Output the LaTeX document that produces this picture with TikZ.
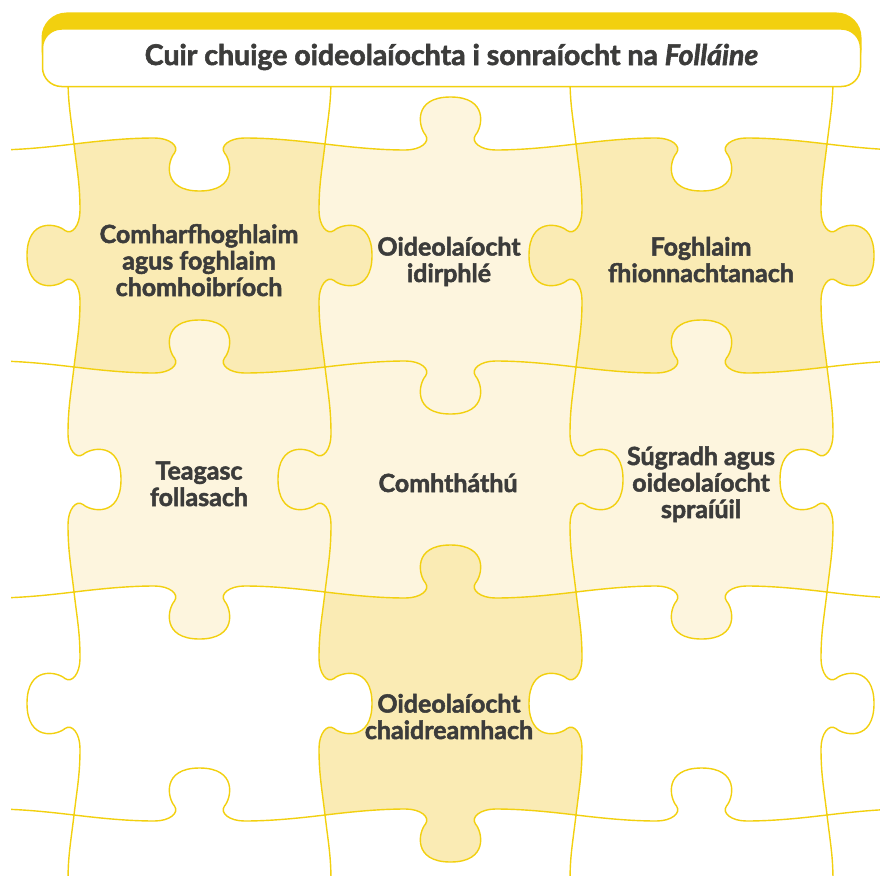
\documentclass[tikz,border=0pt]{standalone}
\usepackage{fontspec}
\setmainfont{Lato}[BoldFeatures={FakeBold=2},BoldItalicFeatures={FakeBold=2}]
\definecolor{jy}{HTML}{F2D00F}
\definecolor{pdark}{HTML}{FAEBB4}
\definecolor{plight}{HTML}{FDF5DE}
\definecolor{txt}{HTML}{3C3C3B}
% horizontal jigsaw edge from (#1,#3) to (#2,#3), knob towards y+#4
\def\HE#1#2#3#4{%
 .. controls ({hn(#1,#2,30)},{#3-(#4)*3.6}) and ({hm(#1,#2,-70)},{#3-(#4)*6}) .. ({hm(#1,#2,-45)},{#3-(#4)*6})
 .. controls ({hm(#1,#2,-30)},{#3-(#4)*6}) and ({hm(#1,#2,-20)},{#3+(#4)*2}) .. ({hm(#1,#2,-25)},{#3+(#4)*9})
 .. controls ({hm(#1,#2,-32)},{#3+(#4)*17}) and ({hm(#1,#2,-38)},{#3+(#4)*47}) .. ({hm(#1,#2,0)},{#3+(#4)*47})
 .. controls ({hm(#1,#2,38)},{#3+(#4)*47}) and ({hm(#1,#2,32)},{#3+(#4)*17}) .. ({hm(#1,#2,25)},{#3+(#4)*9})
 .. controls ({hm(#1,#2,20)},{#3+(#4)*2}) and ({hm(#1,#2,30)},{#3-(#4)*6}) .. ({hm(#1,#2,45)},{#3-(#4)*6})
 .. controls ({hm(#1,#2,70)},{#3-(#4)*6}) and ({hn(#2,#1,30)},{#3-(#4)*3.6}) .. (#2,#3)}
% vertical jigsaw edge from (#3,#1) to (#3,#2), knob towards x+#4
\def\VE#1#2#3#4{%
 .. controls ({#3-(#4)*3.6},{hn(#1,#2,30)}) and ({#3-(#4)*6},{hm(#1,#2,-70)}) .. ({#3-(#4)*6},{hm(#1,#2,-45)})
 .. controls ({#3-(#4)*6},{hm(#1,#2,-30)}) and ({#3+(#4)*2},{hm(#1,#2,-20)}) .. ({#3+(#4)*9},{hm(#1,#2,-25)})
 .. controls ({#3+(#4)*17},{hm(#1,#2,-32)}) and ({#3+(#4)*47},{hm(#1,#2,-38)}) .. ({#3+(#4)*47},{hm(#1,#2,0)})
 .. controls ({#3+(#4)*47},{hm(#1,#2,38)}) and ({#3+(#4)*17},{hm(#1,#2,32)}) .. ({#3+(#4)*9},{hm(#1,#2,25)})
 .. controls ({#3+(#4)*2},{hm(#1,#2,20)}) and ({#3-(#4)*6},{hm(#1,#2,30)}) .. ({#3-(#4)*6},{hm(#1,#2,45)})
 .. controls ({#3-(#4)*6},{hm(#1,#2,70)}) and ({#3-(#4)*3.6},{hn(#2,#1,30)}) .. (#3,#2)}
\begin{document}
\begin{tikzpicture}[x=1pt,y=-1pt,
  declare function={
    hm(\a,\b,\w)=((\a)+(\b))/2+((\b)-(\a))/abs((\b)-(\a))*(\w);
    hn(\a,\b,\w)=(\a)+((\b)-(\a))/abs((\b)-(\a))*(\w);
  },
  seam/.style={draw=jy,line width=1.4pt},
  darkpiece/.style={fill=pdark},
  lightpiece/.style={fill=plight},
  lbl/.style={font=\bfseries\fontsize{25}{26.5}\selectfont,text=txt,align=center,anchor=base,inner sep=0pt},
  titlelbl/.style={font=\bfseries\fontsize{28.5}{30}\selectfont,text=txt,anchor=base,inner sep=0pt}]
\useasboundingbox (0,0) rectangle (880,875);
% piece fills
\path[darkpiece] (74,144) \HE{74}{325}{144}{1} \VE{144}{367}{325}{1} \HE{325}{74}{367}{-1} \VE{367}{144}{74}{-1} -- cycle;
\path[lightpiece] (325,144) \HE{325}{576}{144}{-1} \VE{144}{367}{576}{-1} \HE{576}{325}{367}{1} \VE{367}{144}{325}{1} -- cycle;
\path[darkpiece] (576,144) \HE{576}{827}{144}{1} \VE{144}{367}{827}{1} \HE{827}{576}{367}{-1} \VE{367}{144}{576}{-1} -- cycle;
\path[lightpiece] (74,367) \HE{74}{325}{367}{-1} \VE{367}{592}{325}{-1} \HE{325}{74}{592}{1} \VE{592}{367}{74}{1} -- cycle;
\path[lightpiece] (325,367) \HE{325}{576}{367}{1} \VE{367}{592}{576}{1} \HE{576}{325}{592}{-1} \VE{592}{367}{325}{-1} -- cycle;
\path[lightpiece] (576,367) \HE{576}{827}{367}{-1} \VE{367}{592}{827}{-1} \HE{827}{576}{592}{1} \VE{592}{367}{576}{1} -- cycle;
\path[darkpiece] (325,592) \HE{325}{576}{592}{-1} \VE{592}{815}{576}{-1} \HE{576}{325}{815}{1} \VE{815}{592}{325}{1} -- cycle;
% seams
\begin{scope}
\clip (11,87) rectangle (880,875);
\path[seam] (-177,144) \HE{-177}{74}{144}{-1} \HE{74}{325}{144}{1} \HE{325}{576}{144}{-1} \HE{576}{827}{144}{1} \HE{827}{1078}{144}{-1};
\path[seam] (-177,367) \HE{-177}{74}{367}{1} \HE{74}{325}{367}{-1} \HE{325}{576}{367}{1} \HE{576}{827}{367}{-1} \HE{827}{1078}{367}{1};
\path[seam] (-177,592) \HE{-177}{74}{592}{-1} \HE{74}{325}{592}{1} \HE{325}{576}{592}{-1} \HE{576}{827}{592}{1} \HE{827}{1078}{592}{-1};
\path[seam] (-177,815) \HE{-177}{74}{815}{1} \HE{74}{325}{815}{-1} \HE{325}{576}{815}{1} \HE{576}{827}{815}{-1} \HE{827}{1078}{815}{1};
\path[seam] (74,-79) \VE{-79}{144}{74}{1} \VE{144}{367}{74}{-1} \VE{367}{592}{74}{1} \VE{592}{815}{74}{-1} \VE{815}{1038}{74}{1};
\path[seam] (325,-79) \VE{-79}{144}{325}{-1} \VE{144}{367}{325}{1} \VE{367}{592}{325}{-1} \VE{592}{815}{325}{1} \VE{815}{1038}{325}{-1};
\path[seam] (576,-79) \VE{-79}{144}{576}{1} \VE{144}{367}{576}{-1} \VE{367}{592}{576}{1} \VE{592}{815}{576}{-1} \VE{815}{1038}{576}{1};
\path[seam] (827,-79) \VE{-79}{144}{827}{-1} \VE{144}{367}{827}{1} \VE{367}{592}{827}{-1} \VE{592}{815}{827}{1} \VE{815}{1038}{827}{-1};
\end{scope}
% title box
\fill[jy,rounded corners=25pt] (41.5,12.5) rectangle (861.5,75);
\draw[jy,fill=white,line width=1.5pt,rounded corners=19pt] (42.5,29) rectangle (860.5,86.5);
\node[titlelbl] (title) at (451.5,65) {Cuir chuige oideolaíochta i sonraíocht na \textit{Folláine}};
% labels (anchor = baseline of the last line)
\node[lbl] (p11) at (199,296) {Comharfhoghlaim\\agus foghlaim\\chomhoibríoch};
\node[lbl] (p21) at (449,282) {Oideolaíocht\\idirphlé};
\node[lbl] (p31) at (701,282) {Foghlaim\\fhionnachtanach};
\node[lbl] (p12) at (199,506) {Teagasc\\follasach};
\node[lbl] (p22) at (448,492) {Comhtháthú};
\node[lbl] (p32) at (701,518) {Súgradh agus\\oideolaíocht\\spraíúil};
\node[lbl] (p23) at (449,739) {Oideolaíocht\\chaidreamhach};
\end{tikzpicture}
\end{document}
